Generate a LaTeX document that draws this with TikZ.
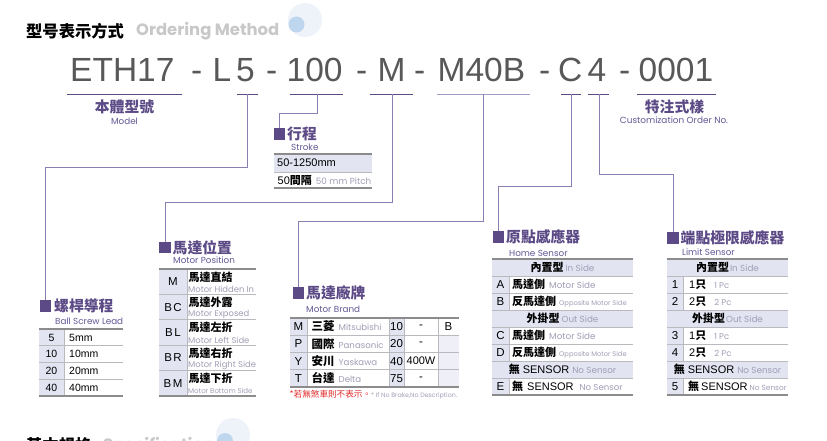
\documentclass[tikz,border=0pt]{standalone}
\usepackage{fontspec}
\setmainfont{Liberation Sans}
\newfontfamily\cjk{Noto Sans CJK TC}
\newfontfamily\pop{Poppins}
\definecolor{pur}{RGB}{92,74,134}
\definecolor{subp}{RGB}{100,88,150}
\definecolor{lnk}{RGB}{140,126,178}
\definecolor{fillc}{RGB}{226,228,242}
\definecolor{rulec}{RGB}{140,140,140}
\definecolor{lrule}{RGB}{185,185,190}
\definecolor{gtx}{RGB}{160,158,182}
\definecolor{codec}{RGB}{88,88,88}
\definecolor{ttlg}{RGB}{200,200,200}
\definecolor{pale}{RGB}{238,243,250}
\definecolor{dotb}{RGB}{190,214,238}
\definecolor{redt}{RGB}{225,40,40}
\newcommand\zhtx[1]{{\cjk\bfseries #1}}
\newcommand\entx[2][8.5]{{\pop\fontsize{#1}{#1}\selectfont\color{gtx}#2}}
\begin{document}
\begin{tikzpicture}[x=1pt,y=-1pt,
  sq/.style={fill=pur,minimum size=11.5pt,inner sep=0pt},
  head/.style={anchor=west,inner sep=0pt,text=pur,font=\cjk\bfseries\fontsize{14.8}{15}\selectfont},
  subt/.style={anchor=west,inner sep=0pt,text=subp,font=\pop\fontsize{8.8}{9}\selectfont},
  code/.style={anchor=base west,inner sep=0pt,text=codec,font=\fontsize{33.5}{34}\selectfont},
  uline/.style={draw=pur,line width=1.1pt},
  link/.style={draw=lnk,line width=1pt},
  cell/.style={inner sep=0pt,font=\fontsize{10.5}{11}\selectfont},
  cw/.style={cell,anchor=west},
  zhc/.style={inner sep=0pt,font=\cjk\bfseries\fontsize{11}{11}\selectfont},
  toprule/.style={draw=rulec,line width=1.3pt},
  midrule/.style={draw=lrule,line width=0.7pt},
]
\useasboundingbox[fill=white] (0,0) rectangle (827,441);

% ---------- title ----------
\fill[pale] (305,20) circle (17);
\fill[dotb] (296.5,24.5) circle (8);
\node[anchor=west,inner sep=0pt,font=\cjk\bfseries\fontsize{16.3}{17}\selectfont] (ttl) at (26,31) {型号表示方式};
\node[anchor=west,inner sep=0pt,text=ttlg,font=\pop\bfseries\fontsize{16.4}{17}\selectfont] (ttle) at (136,31) {Ordering Method};

% bottom (cut) title
\fill[pale] (233,435) circle (17);
\fill[dotb] (225,441) circle (8);
\node[anchor=north west,inner sep=0pt,font=\cjk\bfseries\fontsize{16.3}{17}\selectfont] (ttl2) at (26,437.5) {基本規格};
\node[anchor=north west,inner sep=0pt,text=ttlg,font=\pop\bfseries\fontsize{16.4}{17}\selectfont] (ttl2e) at (103,437.5) {Specifications};

% ---------- code line ----------
\node[code] (c1) at (70,82) {ETH17};
\node[code] (d1) at (191,82) {-};
\node[code] (c2) at (212.5,82) {L};
\node[code] (c3) at (236,82) {5};
\node[code] (d2) at (266,82) {-};
\node[code] (c4) at (286.5,82) {100};
\node[code] (d3) at (356,82) {-};
\node[code] (c5) at (377.5,82) {M};
\node[code] (d4) at (414,82) {-};
\node[code] (c6) at (437.5,82) {M40B};
\node[code] (d5) at (539,82) {-};
\node[code] (c7) at (558,82) {C};
\node[code] (c8) at (587.5,82) {4};
\node[code] (d6) at (619,82) {-};
\node[code] (c9) at (638.5,82) {0001};

% underlines
\draw[uline] (67,94.5) -- (182,94.5);
\draw[uline] (237,94.5) -- (258,94.5);
\draw[uline] (290,94.5) -- (343,94.5);
\draw[uline] (370,94.5) -- (413,94.5);
\draw[uline,draw=lnk!80] (437,94.5) -- (530,94.5);
\draw[uline] (561,94.5) -- (581,94.5);
\draw[uline] (588,94.5) -- (609,94.5);
\draw[uline] (637,94.5) -- (716,94.5);
\coordinate (uL5) at (247.5,94.5);
\coordinate (u100) at (317,94.5);
\coordinate (uM) at (392,94.5);
\coordinate (uM40) at (483,94.5);
\coordinate (uC) at (571,94.5);
\coordinate (u4) at (599,94.5);

% labels under code
\node[inner sep=0pt,text=pur,font=\cjk\bfseries\fontsize{14.8}{15}\selectfont] (mdl) at (124.5,107) {本體型號};
\node[inner sep=0pt,text=subp,font=\pop\fontsize{8.8}{9}\selectfont] (mdle) at (124.5,121.5) {Model};
\node[inner sep=0pt,text=pur,font=\cjk\bfseries\fontsize{14.8}{15}\selectfont] (cus) at (674.5,107) {特注式樣};
\node[inner sep=0pt,text=subp,font=\pop\fontsize{8.9}{9}\selectfont] (cuse) at (674,120.5) {Customization Order No.};

% ---------- section squares & headings ----------
\node[sq] (sqBall) at (45.5,306) {};
\node[head] (hBall) at (54,306) {螺桿導程};
\node[subt] (sBall) at (55,321) {Ball Screw Lead};

\node[sq] (sqPos) at (165,247.5) {};
\node[head] (hPos) at (172.5,247.5) {馬達位置};
\node[subt] (sPos) at (173,260) {Motor Position};

\node[sq] (sqStroke) at (279.5,134) {};
\node[head] (hStroke) at (287,134) {行程};
\node[subt] (sStroke) at (291,147) {Stroke};

\node[sq] (sqBrand) at (298.5,293) {};
\node[head] (hBrand) at (306,293) {馬達廠牌};
\node[subt] (sBrand) at (306,309) {Motor Brand};

\node[sq] (sqHome) at (498.5,237) {};
\node[head] (hHome) at (506,237) {原點感應器};
\node[subt] (sHome) at (509,253) {Home Sensor};

\node[sq] (sqLimit) at (673,238) {};
\node[head] (hLimit) at (680.5,238) {端點極限感應器};
\node[subt] (sLimit) at (682,252) {Limit Sensor};

% ---------- connectors ----------
\draw[link] (uL5) -- ++(0,72.5) -| (sqBall.north);
\draw[link] (u100) -- ++(0,19.5) -| (sqStroke.north);
\draw[link] (uM) -- ++(0,107.5) -| (sqPos.north);
\draw[link] (uM40) -- ++(0,126.5) -| (sqBrand.north);
\draw[link] (uC) -- ++(0,91.5) -| (sqHome.north);
\draw[link] (u4) -- ++(0,79.5) -| (sqLimit.north);

% ---------- Ball screw table ----------
\fill[fillc] (39,329) rectangle (64,396);
\foreach \yy in {345.75,362.5,379.25} \draw[midrule] (39,\yy) -- (123,\yy);
\draw[midrule] (64,329) -- (64,396);
\draw[toprule] (39,329) -- (123,329);
\draw[toprule] (39,396) -- (123,396);
\node[cell] (b1) at (51.5,337.6) {5};   \node[cw] (b1v) at (69,337.6) {5mm};
\node[cell] (b2) at (51.5,354.3) {10};  \node[cw] (b2v) at (69,354.3) {10mm};
\node[cell] (b3) at (51.5,371.0) {20};  \node[cw] (b3v) at (69,371.0) {20mm};
\node[cell] (b4) at (51.5,387.8) {40};  \node[cw] (b4v) at (69,387.8) {40mm};

% ---------- Motor position table ----------
\fill[fillc] (159,269) rectangle (187,396);
\foreach \yy in {294.4,319.8,345.2,370.6} \draw[midrule] (159,\yy) -- (256,\yy);
\draw[midrule] (187,269) -- (187,396);
\draw[toprule] (159,269) -- (256,269);
\draw[toprule] (159,396) -- (256,396);
\node[cell,font=\fontsize{11.5}{12}\selectfont] (p1) at (173,281.7) {M};
\node[cell,font=\fontsize{11.5}{12}\selectfont] (p2) at (173,307.1) {B\hspace{1.5pt}C};
\node[cell,font=\fontsize{11.5}{12}\selectfont] (p3) at (173,332.5) {B\hspace{1.5pt}L};
\node[cell,font=\fontsize{11.5}{12}\selectfont] (p4) at (173,357.9) {B\hspace{1.5pt}R};
\node[cell,font=\fontsize{11.5}{12}\selectfont] (p5) at (173,383.3) {B\hspace{1.5pt}M};
\node[zhc,anchor=west] (p1z) at (188.5,277) {馬達直結};
\node[anchor=west,inner sep=0pt] (p1e) at (188,289.5) {\entx[8.4]{Motor Hidden In}};
\node[zhc,anchor=west] (p2z) at (188.5,302.4) {馬達外露};
\node[anchor=west,inner sep=0pt] (p2e) at (188,314.9) {\entx[8.4]{Motor Exposed}};
\node[zhc,anchor=west] (p3z) at (188.5,327.8) {馬達左折};
\node[anchor=west,inner sep=0pt] (p3e) at (188,340.3) {\entx[8.4]{Motor Left Side}};
\node[zhc,anchor=west] (p4z) at (188.5,353.2) {馬達右折};
\node[anchor=west,inner sep=0pt] (p4e) at (188,365.7) {\entx[8.4]{Motor Right Side}};
\node[zhc,anchor=west] (p5z) at (188.5,378.6) {馬達下折};
\node[anchor=west,inner sep=0pt] (p5e) at (188,391.1) {\entx[7]{Motor Bottom Side}};

% ---------- Stroke table ----------
\fill[fillc] (274,154) rectangle (372,172);
\draw[midrule] (274,172) -- (372,172);
\draw[toprule] (274,154) -- (372,154);
\draw[toprule] (274,188) -- (372,188);
\node[cw,font=\fontsize{11}{11}\selectfont] (s1) at (277,163) {50-1250mm};
\node[anchor=west,inner sep=0pt] (s2) at (277.5,180.3) {{\fontsize{11}{11}\selectfont 50}\zhtx{\fontsize{11}{11}\selectfont 間隔}\hspace{4pt}\entx[8.8]{50 mm Pitch}};

% ---------- Motor brand table ----------
\fill[fillc] (290,318) rectangle (307,387);
\fill[fillc] (389,318) rectangle (404,387);
\fill[fillc!60] (438,335.25) rectangle (459,387);
\foreach \yy in {335.25,352.5,369.75} \draw[midrule] (290,\yy) -- (459,\yy);
\foreach \xx in {307,389,404,438} \draw[midrule] (\xx,318) -- (\xx,387);
\draw[toprule] (290,318) -- (459,318);
\draw[toprule] (290,387) -- (459,387);
\node[cell,font=\fontsize{11.5}{12}\selectfont] (m1) at (298.5,326.6) {M};
\node[cell,font=\fontsize{11.5}{12}\selectfont] (m2) at (298.5,343.9) {P};
\node[cell,font=\fontsize{11.5}{12}\selectfont] (m3) at (298.5,361.1) {Y};
\node[cell,font=\fontsize{11.5}{12}\selectfont] (m4) at (298.5,378.4) {T};
\node[anchor=west,inner sep=0pt] (m1n) at (311.5,326.6) {\zhtx{\fontsize{11.5}{12}\selectfont 三菱}\hspace{4pt}\entx[8.6]{Mitsubishi}};
\node[anchor=west,inner sep=0pt] (m2n) at (311.5,343.9) {\zhtx{\fontsize{11.5}{12}\selectfont 國際}\hspace{4pt}\entx[8.6]{Panasonic}};
\node[anchor=west,inner sep=0pt] (m3n) at (311.5,361.1) {\zhtx{\fontsize{11.5}{12}\selectfont 安川}\hspace{4pt}\entx[8.6]{Yaskawa}};
\node[anchor=west,inner sep=0pt] (m4n) at (311.5,378.4) {\zhtx{\fontsize{11.5}{12}\selectfont 台達}\hspace{4pt}\entx[8.6]{Delta}};
\node[cell,font=\fontsize{11.5}{12}\selectfont] (m1w) at (396.5,326.6) {10};
\node[cell,font=\fontsize{11.5}{12}\selectfont] (m2w) at (396.5,343.9) {20};
\node[cell,font=\fontsize{11.5}{12}\selectfont] (m3w) at (396.5,361.1) {40};
\node[cell,font=\fontsize{11.5}{12}\selectfont] (m4w) at (396.5,378.4) {75};
\node[cell,font=\fontsize{11.5}{12}\selectfont] (m1p) at (421,326.6) {-};
\node[cell,font=\fontsize{11.5}{12}\selectfont] (m2p) at (421,343.9) {-};
\node[cell,font=\fontsize{11}{12}\selectfont] (m3p) at (421,361.1) {400W};
\node[cell,font=\fontsize{11.5}{12}\selectfont] (m4p) at (421,378.4) {-};
\node[cell,font=\fontsize{11.5}{12}\selectfont] (m1b) at (448.5,326.6) {B};
\node[anchor=west,inner sep=0pt] (mnote) at (289.5,394.5) {{\cjk\fontsize{8.6}{9}\selectfont\color{redt}*若無煞車則不表示。}{\pop\fontsize{6.3}{7}\selectfont\color{gtx}* If No Brake,No Description.}};

% ---------- Home sensor table ----------
\foreach \r in {0,3,6} \fill[fillc] (492,259+17*\r) rectangle (633,276+17*\r);
\foreach \r in {1,2,4,5,7} \fill[fillc] (492,259+17*\r) rectangle (509,276+17*\r);
\foreach \r in {1,...,7} \draw[midrule] (492,259+17*\r) -- (633,259+17*\r);
\foreach \r in {1,2,4,5,7} \draw[midrule] (509,259+17*\r) -- (509,276+17*\r);
\draw[toprule] (492,259) -- (633,259);
\draw[toprule] (492,395) -- (633,395);
\node[inner sep=0pt] (h0) at (562.5,267.5) {\zhtx{\fontsize{11}{11}\selectfont 內置型}\hspace{2pt}\entx[8.8]{In Side}};
\node[cell,font=\fontsize{11.5}{12}\selectfont] (h1) at (500.5,284.5) {A};
\node[anchor=west,inner sep=0pt] (h1t) at (512,284.5) {\zhtx{\fontsize{11}{11}\selectfont 馬達側}\hspace{4pt}\entx[8.8]{Motor Side}};
\node[cell,font=\fontsize{11.5}{12}\selectfont] (h2) at (500.5,301.5) {B};
\node[anchor=west,inner sep=0pt] (h2t) at (512,301.5) {\zhtx{\fontsize{11}{11}\selectfont 反馬達側}\hspace{3pt}\entx[6.7]{Opposite Motor Side}};
\node[inner sep=0pt] (h3) at (562.5,318.5) {\zhtx{\fontsize{11}{11}\selectfont 外掛型}\hspace{2pt}\entx[8.8]{Out Side}};
\node[cell,font=\fontsize{11.5}{12}\selectfont] (h4) at (500.5,335.5) {C};
\node[anchor=west,inner sep=0pt] (h4t) at (512,335.5) {\zhtx{\fontsize{11}{11}\selectfont 馬達側}\hspace{4pt}\entx[8.8]{Motor Side}};
\node[cell,font=\fontsize{11.5}{12}\selectfont] (h5) at (500.5,352.5) {D};
\node[anchor=west,inner sep=0pt] (h5t) at (512,352.5) {\zhtx{\fontsize{11}{11}\selectfont 反馬達側}\hspace{3pt}\entx[6.7]{Opposite Motor Side}};
\node[inner sep=0pt] (h6) at (562.5,369.5) {\zhtx{\fontsize{11}{11}\selectfont 無}\hspace{3pt}{\fontsize{11}{11}\selectfont SENSOR}\hspace{3pt}\entx[8.8]{No Sensor}};
\node[cell,font=\fontsize{11.5}{12}\selectfont] (h7) at (500.5,386.5) {E};
\node[anchor=west,inner sep=0pt] (h7t) at (512,386.5) {\zhtx{\fontsize{11}{11}\selectfont 無}\hspace{4pt}{\fontsize{11}{11}\selectfont SENSOR}\hspace{6pt}\entx[8.6]{No Sensor}};

% ---------- Limit sensor table ----------
\foreach \r in {0,3,6} \fill[fillc] (667,259+17*\r) rectangle (788,276+17*\r);
\foreach \r in {1,2,4,5,7} \fill[fillc] (667,259+17*\r) rectangle (683,276+17*\r);
\foreach \r in {1,...,7} \draw[midrule] (667,259+17*\r) -- (788,259+17*\r);
\foreach \r in {1,2,4,5,7} \draw[midrule] (683,259+17*\r) -- (683,276+17*\r);
\draw[toprule] (667,259) -- (788,259);
\draw[toprule] (667,395) -- (788,395);
\node[inner sep=0pt] (l0) at (727.5,267.5) {\zhtx{\fontsize{11}{11}\selectfont 內置型}\hspace{1pt}\entx[8.8]{In Side}};
\node[cell,font=\fontsize{11.5}{12}\selectfont] (l1) at (675,284.5) {1};
\node[anchor=west,inner sep=0pt] (l1t) at (689,284.5) {{\fontsize{11}{11}\selectfont 1}\zhtx{\fontsize{11}{11}\selectfont 只}\hspace{8pt}\entx[8.4]{1 Pc}};
\node[cell,font=\fontsize{11.5}{12}\selectfont] (l2) at (675,301.5) {2};
\node[anchor=west,inner sep=0pt] (l2t) at (689,301.5) {{\fontsize{11}{11}\selectfont 2}\zhtx{\fontsize{11}{11}\selectfont 只}\hspace{8pt}\entx[8.4]{2 Pc}};
\node[inner sep=0pt] (l3) at (727.5,318.5) {\zhtx{\fontsize{11}{11}\selectfont 外掛型}\hspace{1pt}\entx[8.8]{Out Side}};
\node[cell,font=\fontsize{11.5}{12}\selectfont] (l4) at (675,335.5) {3};
\node[anchor=west,inner sep=0pt] (l4t) at (689,335.5) {{\fontsize{11}{11}\selectfont 1}\zhtx{\fontsize{11}{11}\selectfont 只}\hspace{8pt}\entx[8.4]{1 Pc}};
\node[cell,font=\fontsize{11.5}{12}\selectfont] (l5) at (675,352.5) {4};
\node[anchor=west,inner sep=0pt] (l5t) at (689,352.5) {{\fontsize{11}{11}\selectfont 2}\zhtx{\fontsize{11}{11}\selectfont 只}\hspace{8pt}\entx[8.4]{2 Pc}};
\node[inner sep=0pt] (l6) at (727.5,369.5) {\zhtx{\fontsize{11}{11}\selectfont 無}\hspace{3pt}{\fontsize{11}{11}\selectfont SENSOR}\hspace{3pt}\entx[8.8]{No Sensor}};
\node[cell,font=\fontsize{11.5}{12}\selectfont] (l7) at (675,386.5) {5};
\node[anchor=west,inner sep=0pt] (l7t) at (688,386.5) {\zhtx{\fontsize{11}{11}\selectfont 無}\hspace{2pt}{\fontsize{11}{11}\selectfont SENSOR}\hspace{2pt}\entx[7.4]{No Sensor}};
\end{tikzpicture}
\end{document}
